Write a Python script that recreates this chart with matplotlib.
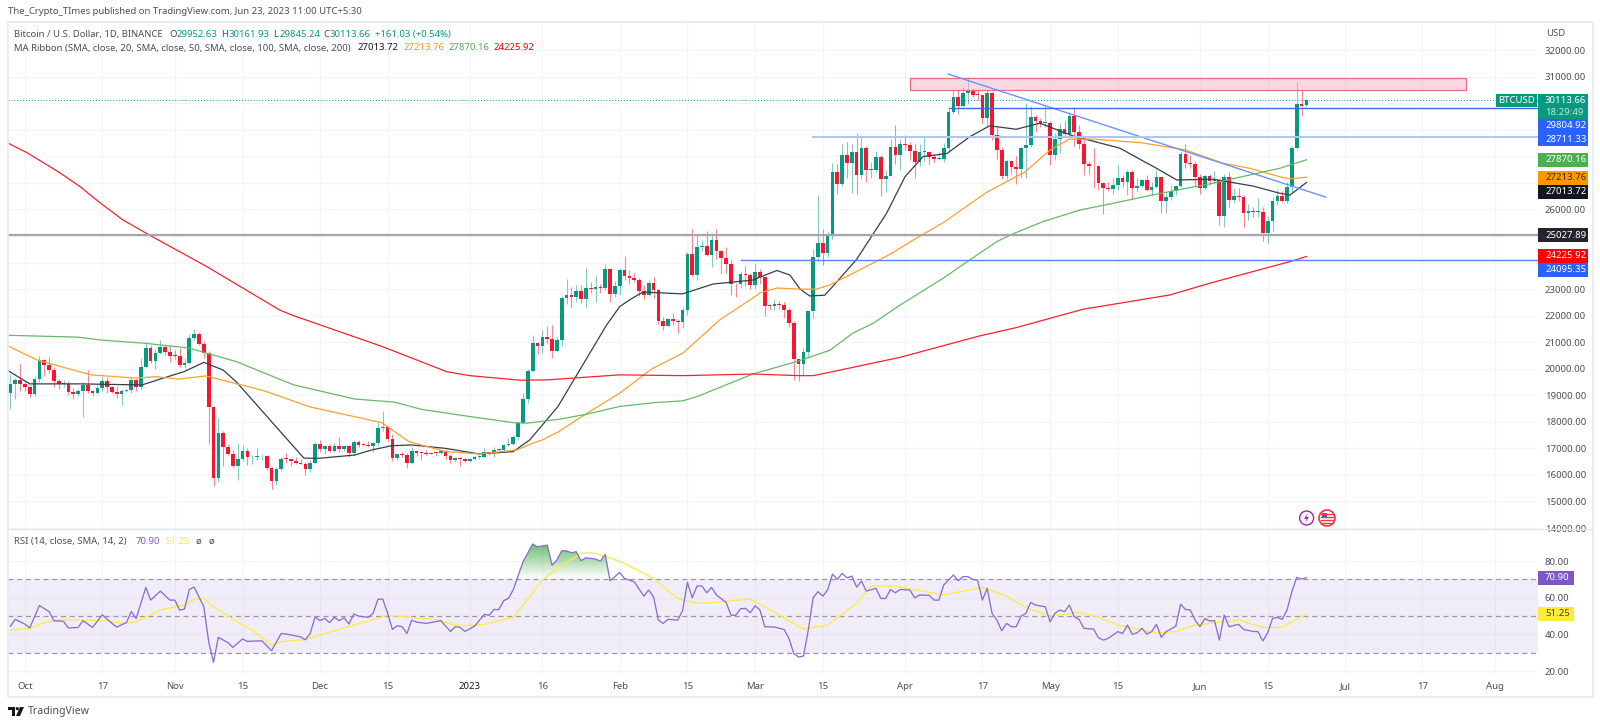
import matplotlib
matplotlib.use('Agg')
import matplotlib.pyplot as plt
from matplotlib.patches import Rectangle, Circle, Polygon
import numpy as np

plt.rcParams['font.family'] = ['Noto Sans', 'DejaVu Sans']

# daily candles, 2022-09-28 .. 2023-06-23 (x = days from 1 Oct 2022)
first_open = 19088
closes = [
    19412, 19591, 19422,
    19310, 19056, 19629, 20337, 20158, 19955, 19531, 19417, 19439, 19131, 19060, 19155, 19375, 19176, 19068, 19262,
    19549, 19327, 19123, 19041, 19164, 19204, 19572, 19330, 20080, 20771, 20295, 20595, 20818, 20635, 20495,
    20485, 20159, 20209, 21148, 21300, 20925, 20600, 18541, 15880, 17586, 17034, 16800, 16354, 16618, 16885,
    16663, 16680, 16697, 16711, 16280, 15781, 16226, 16603, 16598, 16522, 16458, 16428, 16212, 16442, 17163,
    16977, 17092, 16885, 17105, 16967, 17089, 16836, 17224, 17128, 17127, 17085, 17209, 17775, 17803, 17356,
    16630, 16777, 16738, 16438, 16895, 16824, 16821, 16778, 16836, 16832, 16917, 16707, 16547, 16633, 16607, 16542,
    16616, 16672, 16675, 16850, 16831, 16950, 16943, 17127, 17178, 17440, 17943, 18847, 19930, 20955, 20875,
    21185, 21133, 20675, 21072, 22667, 22784, 22707, 22917, 22633, 23056, 23009, 23075, 23028, 23743, 22827, 23125,
    23733, 23492, 23431, 23327, 22932, 22762, 23240, 22963, 21796, 21625, 21862, 21783, 21773, 22200, 24324,
    23517, 24569, 24631, 24271, 24838, 24450, 24188, 23947, 23198, 23175, 23561, 23522, 23147,
    23646, 23470, 22362, 22354, 22435, 22409, 22199, 21705, 20363, 20187, 20632, 22163, 24197, 24746, 24375,
    25055, 27423, 26965, 28038, 27767, 28175, 27307, 28333, 27493, 27494, 27994, 27139, 27268, 28348, 28033, 28478,
    28411, 28199, 27790, 28170, 28175, 27993, 27917, 27917, 28333, 29653, 30235, 29884, 30399, 30485, 30318,
    30315, 29445, 30397, 28822, 28245, 27262, 27816, 27590, 27510, 28300, 28417, 29473, 29340, 29248, 29268,
    28068, 28669, 29026, 28836, 29534, 28904, 28454, 27694, 27654, 27621, 27000, 26804, 26784, 26930, 27170,
    27033, 27405, 26822, 26890, 27112, 26747, 26850, 27225, 26330, 26473, 26705, 26868, 28085, 27745, 27700, 27219,
    26819, 27249, 27069, 27115, 25760, 27238, 26347, 26506, 26480, 25850, 25940, 25902, 25918, 25124, 25575,
    26327, 26510, 26336, 26840, 28307, 29990, 29890, 30113.66,
]
highs = [
    19790, 19645, 20180,
    19484, 19395, 19719, 20475, 20365, 20456, 20055, 19615, 19558, 19525, 19270, 19225, 19513, 19950, 19210, 19425,
    19680, 19700, 19360, 19345, 19250, 19250, 19690, 19600, 20420, 21020, 20880, 20750, 21085, 20930, 20840,
    20690, 20800, 20390, 21300, 21480, 21370, 21050, 20670, 18600, 18150, 17650, 17150, 16950, 17190, 17130,
    17000, 16750, 17000, 16800, 16750, 16290, 16310, 16670, 16810, 16600, 16680, 16600, 16480, 16550, 17250,
    17320, 17110, 17160, 17200, 17420, 17110, 17140, 17300, 17300, 17220, 17270, 17240, 18000, 18390, 17850,
    17530, 16800, 16870, 16815, 17060, 16900, 16870, 16950, 16870, 16860, 16930, 16970, 16780, 16660, 16680, 16630,
    16630, 16760, 16770, 17000, 16880, 17040, 16960, 17170, 17400, 17500, 18000, 19100, 20000, 21260, 21000,
    21460, 21600, 21650, 21190, 22750, 23370, 23080, 23170, 23160, 23800, 23260, 23500, 23180, 23960, 23790, 23320,
    23810, 24255, 23720, 23590, 23430, 23160, 23340, 23450, 23010, 21940, 21900, 22090, 21890, 22320, 24380,
    25250, 25020, 24850, 25190, 25120, 25250, 24480, 24600, 24130, 23220, 23690, 23880, 23600,
    24000, 23770, 23480, 22420, 22610, 22550, 22530, 22270, 21810, 20370, 20790, 22190, 24500, 26550, 25250,
    25200, 27750, 27730, 28470, 28530, 28470, 28880, 28800, 28380, 27790, 28200, 28040, 27500, 28650, 29180, 28660,
    28800, 28530, 28500, 28450, 28760, 28180, 28100, 28170, 28520, 29770, 30550, 30500, 30620, 31000, 30590,
    30550, 30320, 30490, 30410, 29100, 28370, 27880, 27820, 28000, 28400, 30020, 29890, 29570, 29460, 29950,
    29340, 28880, 29260, 29350, 29670, 29850, 29170, 28660, 27830, 28320, 27660, 27040, 27030, 27200, 27660,
    27300, 27470, 27480, 27170, 27150, 27280, 27050, 27500, 27220, 26630, 26930, 26930, 28200, 28450, 28050, 27830,
    27350, 27300, 27320, 27450, 27130, 27350, 27400, 26800, 26790, 26530, 26210, 26110, 26440, 26080, 25750,
    26480, 26770, 26700, 27040, 28400, 30800, 30500, 30161.93,
]
lows = [
    18471, 18843, 19155,
    19159, 18920, 18959, 19493, 19730, 19853, 19320, 19255, 19320, 19020, 18860, 18965, 18190, 19070, 18975, 19065,
    19160, 19100, 19070, 18900, 18650, 19115, 19070, 19160, 19250, 20050, 20200, 20000, 20550, 20510, 20250,
    20350, 20050, 20030, 20180, 21080, 20890, 20400, 17170, 15590, 15750, 16350, 16750, 16300, 15820, 16530,
    16360, 16400, 16550, 16560, 16170, 15480, 15620, 16160, 16460, 16350, 16400, 16400, 15995, 16110, 16430,
    16860, 16790, 16860, 16880, 16870, 16905, 16680, 16730, 17060, 17090, 17070, 16870, 17075, 17660, 17275,
    16530, 16580, 16660, 16260, 16400, 16710, 16560, 16750, 16790, 16700, 16790, 16590, 16460, 16490, 16330, 16470,
    16490, 16550, 16600, 16650, 16750, 16670, 16910, 16910, 17100, 17140, 17320, 17900, 18700, 19880, 20550,
    20610, 20920, 20400, 20650, 20850, 22420, 22290, 22510, 22460, 22320, 22850, 22500, 22870, 22980, 22500, 22710,
    22760, 23360, 23200, 23250, 22750, 22630, 22750, 22670, 21690, 21450, 21600, 21630, 21350, 21530, 22040,
    23510, 23340, 24430, 24230, 23840, 24150, 23570, 23600, 22770, 22700, 23060, 23100, 23020,
    23020, 23180, 21970, 22200, 22200, 22250, 21930, 21580, 19570, 19550, 19770, 20440, 21900, 24050, 23900,
    24200, 24890, 26600, 26900, 27200, 26630, 26600, 27150, 27030, 27200, 27400, 26500, 26650, 27250, 27700, 27500,
    28240, 27870, 27200, 27650, 27830, 27730, 27780, 27880, 27800, 28170, 29600, 29600, 29870, 29970, 30230,
    30120, 29260, 29100, 28600, 27900, 27130, 27130, 27350, 26950, 27200, 27200, 28370, 28900, 29100, 29100,
    27660, 27870, 28130, 28690, 28800, 28380, 28260, 27280, 27340, 26800, 26750, 25810, 26690, 26600, 26750,
    26860, 26550, 26400, 26670, 26830, 26680, 26520, 26820, 25870, 25870, 26350, 26550, 26850, 27550, 27550, 26850,
    26600, 26760, 26920, 26950, 25400, 25350, 26110, 26240, 26310, 25350, 25610, 25720, 25700, 24820, 24750,
    25170, 26180, 26280, 26250, 26650, 28260, 29530, 29845.24,
]
opens = [first_open] + closes[:-1]
opens[-1] = 29952.63

# moving averages at their bends
ma20_days = [-3.5, 1, 11.6, 24.2, 29, 32.9, 37, 41, 43.7, 57.7, 61, 68.2, 71.7, 75.8, 80, 87, 94, 101, 104.4, 110.2,
             116.2, 120.3, 123, 125, 127.8, 136, 142.3, 150.5, 155.5, 158.2, 160.3, 162.3, 165.4, 167, 172, 174.6,
             178.2, 182, 185.7, 190.7, 195.4, 199.5, 205, 209.9, 216.7, 226.4, 234, 238.2, 245.7, 254, 259.5, 261.6,
             265]
ma20_vals = [19930, 19430, 19430, 19390, 19670, 19890, 20240, 19950, 19510, 16630, 16630, 16750, 16940, 17100, 17130,
             17000, 16790, 16880, 17320, 18570, 20400, 21650, 22340, 22590, 22890, 22820, 23190, 23340, 23700, 23530,
             23000, 22740, 22770, 23090, 24120, 24850, 25860, 27230, 27990, 28110, 28740, 29150, 29020, 29250, 28770,
             28310, 27550, 27110, 27140, 26880, 26610, 26540, 27013.72]
ma50_days = [-3.5, 2.5, 13.6, 22.7, 27, 31.8, 37.4, 49.3, 59, 73.8, 79.4, 87, 94, 101.7, 104.4, 107, 110.2, 116.2, 123,
             129.6, 136, 143.7, 149.9, 152, 155.5, 160.3, 163.7, 166.5, 172, 179.5, 183.7, 189.8, 199, 206.8, 212, 216,
             220.8, 231, 240, 247.8, 253.3, 259.5, 261.6, 265]
ma50_vals = [20860, 20330, 19770, 19650, 19700, 19610, 19730, 19180, 18560, 17970, 17255, 16880, 16790, 16940, 17150,
             17320, 17610, 18320, 19080, 19990, 20580, 21840, 22590, 22850, 23040, 23000, 23000, 23160, 23660, 24370,
             24850, 25490, 26660, 27410, 28240, 28650, 28650, 28510, 28240, 27740, 27550, 27230, 27150, 27213.76]
ma100_days = [-3.5, 11, 15.7, 24.8, 33.9, 43.7, 55.6, 68.2, 76.5, 82, 92, 101, 103.8, 110.6, 116.2, 123, 129.9, 136,
              139, 150.5, 159.6, 166.5, 171.2, 175.4, 181, 189.9, 195.4, 201, 204.3, 210.5, 218.2, 225, 233.3, 245.7,
              259.5, 265]
ma100_vals = [21260, 21190, 21080, 20960, 20780, 20270, 19390, 18860, 18740, 18470, 18200, 17970, 17950, 18100, 18290,
              18580, 18720, 18790, 18950, 19800, 20270, 20700, 21340, 21710, 22400, 23410, 24100, 24790, 25080, 25540,
              25980, 26230, 26550, 26990, 27550, 27870.16]
ma200_days = [-3.5, 0.4, 7.2, 11.4, 15.5, 20.3, 25.8, 37.6, 52.7, 55.4, 74, 87.2, 92, 102.4, 108, 123, 136, 150.5,
              160.3, 163, 166.5, 181, 197.5, 205, 218.8, 236.8, 245, 262.3, 265]
ma200_vals = [28500, 28140, 27385, 26860, 26255, 25600, 25030, 23850, 22210, 22010, 20830, 19890, 19740, 19570, 19580,
              19770, 19740, 19800, 19740, 19740, 19870, 20430, 21240, 21550, 22240, 22780, 23220, 24070, 24225.92]

# RSI pane
rsi_days = [-3, -2, 0, 1, 3, 5, 6, 8, 9, 11, 12, 14, 16, 18, 19, 21, 22, 23, 25, 26, 28, 30, 31, 32, 33, 34, 35, 37,
            38, 39, 40, 42, 43, 45, 46, 49, 51, 53, 54, 57, 58, 59, 60, 61, 62, 63, 64, 65, 66, 67, 68, 69, 71, 72, 73,
            74, 75, 76, 77, 78, 79, 80, 81, 83, 86, 88, 89, 90, 91, 93, 95, 96, 97, 98, 99, 100, 101, 103, 105, 106,
            108, 109, 110, 111, 112, 113, 114, 115, 116, 118, 119, 120, 121, 123, 124, 126, 128, 129, 130, 131, 132,
            133, 135, 136, 137, 138, 139, 140, 141, 142, 143, 145, 146, 147, 148, 149, 150, 151, 152, 153, 155, 157,
            158, 159, 160, 161, 162, 163, 164, 165, 166, 167, 168, 169, 170, 171, 172, 173, 174, 176, 177, 178, 179,
            180, 181, 183, 184, 185, 187, 188, 189, 190, 192, 193, 194, 195, 196, 197, 198, 199, 200, 201, 202, 203,
            204, 205, 206, 207, 208, 209, 211, 212, 213, 214, 215, 216, 217, 218, 219, 221, 222, 223, 224, 226, 227,
            228, 229, 230, 231, 232, 233, 234, 235, 236, 238, 239, 240, 241, 242, 243, 244, 245, 246, 247, 248, 249,
            251, 252, 254, 255, 256, 257, 258, 259, 260, 261, 262, 263, 264, 265]
rsi_vals = [44.5, 48.2, 45.6, 43.6, 55.8, 52.4, 47.5, 47.1, 43.5, 43.8, 47.5, 43.8, 50.7, 46, 44, 46.5, 52.5, 48.7,
            65.6, 58.7, 63.6, 58.7, 58.7, 53.3, 53.8, 64.5, 65.8, 55.1, 36, 24.7, 38.4, 35.5, 32.9, 37.5, 36.2, 36.5,
            31.1, 40.5, 40.2, 38.7, 37.1, 40.5, 49.6, 47.5, 48.7, 46.4, 49.3, 47.5, 49.1, 45.6, 51.1, 50, 49.3, 51.5,
            59.1, 59.3, 51.5, 42.7, 44.7, 44.2, 40.5, 47.8, 46.7, 46, 47.5, 41.6, 44.2, 43.8, 41.6, 44.5, 50.9, 50.4,
            53.6, 53.5, 58.4, 59.6, 64.5, 79.6, 89.3, 87.8, 88.7, 77.8, 80.5, 85.6, 85.6, 84.5, 85.1, 80.2, 81.8, 81.1,
            80, 83.6, 69.3, 73.8, 70.5, 68.7, 60.9, 64.2, 60.5, 47.8, 46, 48.2, 47.8, 52.9, 68.4, 60, 66.4, 66.4, 62.7,
            65.6, 61.5, 57.5, 50.5, 50.4, 54, 54.2, 51.8, 55.6, 53.3, 44.2, 44, 42.7, 37.8, 29.6, 27.6, 28.2, 42.4, 60,
            63.3, 60.9, 64.2, 72.9, 70, 73.3, 70.9, 71.8, 65.8, 69.1, 63.6, 65.1, 59.6, 59.6, 64.5, 62.7, 64.5, 64.2,
            60, 61.5, 61.3, 58.7, 58.7, 66.9, 72.4, 69.3, 71.5, 71.5, 70, 69.6, 58.7, 65.1, 51.5, 47.8, 42, 46, 44.2,
            44.2, 50, 51.5, 57.5, 56, 55.1, 46.9, 51.5, 53.3, 52.4, 56, 49.6, 48.2, 43.3, 42.9, 38.2, 36.9, 37.8, 41.5,
            40.5, 45.1, 40, 40.9, 43.3, 40.2, 41.5, 45.5, 38.4, 41.5, 44.5, 56.5, 53.6, 53.3, 47.8, 44.2, 48.7, 47.3,
            47.5, 36.9, 50.5, 44.2, 45.5, 42.7, 41.6, 41.5, 36.4, 40.9, 48.7, 49.3, 48.2, 53.3, 63.3, 71.1, 70.2, 70.9]
rsi_ma_days = [-3, 1, 4, 8, 16, 21, 23, 28, 33, 35, 37, 39, 45, 47, 51, 53, 58, 66, 71, 75, 86, 88, 91, 95, 101, 103,
               107, 111, 115, 117, 119, 122, 124, 128, 130, 135, 139, 143, 150, 153, 161, 166, 172, 175, 180, 190, 198,
               203, 207, 212, 218, 222, 226, 234, 238, 242, 248, 251, 256, 260, 265]
rsi_ma_vals = [42.4, 43.3, 46.5, 48.2, 47.5, 46, 46.9, 53.3, 56, 59.1, 59.6, 55.1, 45.1, 42.4, 34.2, 36, 37.3, 43.6,
               47.3, 50.5, 47.8, 45.6, 44.7, 45.5, 49.3, 56, 69.6, 77.8, 84.2, 84.5, 83.6, 80.9, 78.7, 73.3, 70.5, 59.6,
               56.9, 57.5, 59.3, 55.1, 42.9, 45.1, 56.9, 66.4, 66.4, 61.5, 65.6, 60.9, 54.7, 50, 52, 49.6, 45.1, 40.9,
               41.5, 45.1, 46.9, 47.8, 43.8, 43.8, 51.25]

tick_days = [0, 16, 31, 45, 61, 75, 92, 107, 123, 137, 151, 165, 182, 198, 212, 226, 243, 257, 273, 289, 304]
tick_labels = ['Oct', '17', 'Nov', '15', 'Dec', '15', '2023', '16', 'Feb', '15', 'Mar', '15', 'Apr', '17', 'May',
               '15', 'Jun', '15', 'Jul', '17', 'Aug']
price_ticks = list(range(14000, 33000, 1000))
hidden_prices = [24000, 25000, 27000, 28000, 29000, 30000]

UP = '#089981'
DOWN = '#f7152f'
GRID = '#f3f5f9'
LABEL = '#4a4e5a'
W, H = 1600, 726
AXIS_FS = 6.9
TEXT_FS = 6.85

fig = plt.figure(figsize=(16, 7.26), dpi=100, facecolor='white')
ax = fig.add_axes([8 / W, 1 - 529 / H, 1530 / W, 507 / H])
rsi = fig.add_axes([8 / W, 1 - 674 / H, 1530 / W, 145 / H])
top = fig.add_axes([0, 0, 1, 1], zorder=10)
top.set_xlim(0, W)
top.set_ylim(H, 0)
top.axis('off')
top.patch.set_alpha(0)

for a in (ax, rsi):
    a.set_xlim(-3.5, 312.9)
    a.set_xticks(tick_days)
    a.grid(True, color=GRID, lw=1)
    a.set_axisbelow(True)
    for s in a.spines.values():
        s.set_visible(False)
    a.tick_params(length=0)

# price pane
ax.set_ylim(13964, 33060)
ax.set_yticks(price_ticks)
ax.set_yticklabels(['' if p in hidden_prices else '%d.00' % p for p in price_ticks])
ax.yaxis.tick_right()
ax.tick_params(axis='y', labelsize=AXIS_FS, labelcolor=LABEL, pad=5)
ax.set_xticklabels([])

bar_x = np.arange(len(closes)) - 3
o = np.array(opens)
c = np.array(closes)
colors = np.where(c >= o, UP, DOWN)
ax.vlines(bar_x, lows, highs, colors=colors, lw=0.8, alpha=0.5, zorder=3)
body = np.maximum(np.abs(c - o), 30)
ax.bar(bar_x, body, bottom=np.minimum(o, c), width=0.76, color=colors, linewidth=0, zorder=4)

ax.plot(ma20_days, ma20_vals, color='#3a3d47', lw=0.9, zorder=5)
ax.plot(ma50_days, ma50_vals, color='#ff9f2e', lw=0.9, zorder=5)
ax.plot(ma100_days, ma100_vals, color='#66b96a', lw=0.9, zorder=5)
ax.plot(ma200_days, ma200_vals, color='#f5222d', lw=0.9, zorder=5)

# drawings on the price pane
ax.axhline(30113.66, color=UP, lw=0.7, ls=(0, (1, 2)), zorder=2)
ax.add_patch(Rectangle((183, 30500), 115, 440, facecolor='#f7a8be', alpha=0.45, edgecolor='none', zorder=6))
ax.add_patch(Rectangle((183, 30500), 115, 440, facecolor='none', edgecolor='#ee6d7e', lw=0.9, zorder=6))
ax.plot([190.9, 269], [31100, 26465], color='#6d92ff', lw=1.0, zorder=6)
ax.plot([191, 312.9], [29804.92, 29804.92], color='#3f68e0', lw=1.0, zorder=6)
ax.plot([163, 312.9], [28711.33, 28711.33], color='#aec4ff', lw=1.4, zorder=6)
ax.axhline(25027.89, color='#a6a6a6', lw=1.6, zorder=6)
ax.plot([148, 312.9], [24095.35, 24095.35], color='#5d80f0', lw=1.0, zorder=6)

# rsi pane
rsi.set_ylim(18.4, 97.5)
rsi.set_yticks([20, 40, 60, 80])
rsi.set_yticklabels(['20.00', '40.00', '60.00', '80.00'])
rsi.yaxis.tick_right()
rsi.tick_params(axis='y', labelsize=AXIS_FS, labelcolor=LABEL, pad=5)
rsi.set_xticklabels(tick_labels)
rsi.tick_params(axis='x', labelsize=AXIS_FS, labelcolor=LABEL, pad=6)
rsi.get_xticklabels()[6].set_color('#131722')

rsi.axhspan(30, 70, color='#7e57c2', alpha=0.1, lw=0, zorder=1)
for level in (30, 50, 70):
    rsi.axhline(level, color='#9a97a5', lw=0.9, ls=(0, (4, 3)), zorder=2)

# green gradient where the RSI sits above 70
grad = np.zeros((64, 2, 4))
grad[..., 0] = 0.30
grad[..., 1] = 0.69
grad[..., 2] = 0.31
grad[..., 3] = np.linspace(0.85, 0, 64)[:, None]
img = rsi.imshow(grad, extent=(101, 122, 70, 90), origin='upper', aspect='auto', zorder=2)
clip = Polygon(np.array([[d, v] for d, v in zip(rsi_days, rsi_vals) if 101 <= d <= 121]
                        + [[121, 70], [101.5, 70]]), transform=rsi.transData)
img.set_clip_path(clip)
rsi.set_xlim(-3.5, 312.9)
rsi.set_ylim(18.4, 97.5)

rsi.plot(rsi_ma_days, rsi_ma_vals, color='#ffe94d', lw=1.0, zorder=3)
rsi.plot(rsi_days, rsi_vals, color='#8a6fd0', lw=0.95, zorder=4)

# frame and pane separator
top.add_patch(Rectangle((8, 22), 1585, 675, facecolor='none', edgecolor='#e8eaf0', lw=1.2))
top.plot([8, 1593], [529, 529], color='#e4e6ec', lw=1)

# header and legends
top.text(8, 12, 'The_Crypto_TImes published on TradingView.com, Jun 23, 2023 11:00 UTC+5:30',
         fontsize=TEXT_FS, color=LABEL, va='center')


def legend(x, y, s, color=LABEL):
    top.text(x, y, s, fontsize=TEXT_FS, color=color, va='center')


legend(14.5, 34.5, 'Bitcoin / U.S. Dollar, 1D, BINANCE')
legend(169, 34.5, 'O')
legend(176.5, 34.5, '29952.63', UP)
legend(221, 34.5, 'H')
legend(229, 34.5, '30161.93', UP)
legend(273, 34.5, 'L')
legend(279, 34.5, '29845.24', UP)
legend(323.6, 34.5, 'C')
legend(330, 34.5, '30113.66', UP)
legend(375, 34.5, '+161.03 (+0.54%)', UP)
legend(14.5, 48, 'MA Ribbon (SMA, close, 20, SMA, close, 50, SMA, close, 100, SMA, close, 200)')
legend(358, 48, '27013.72', '#131722')
legend(403.5, 48, '27213.76', '#ff9800')
legend(448.5, 48, '27870.16', '#4caf50')
legend(494, 48, '24225.92', '#ff0000')
legend(14.5, 541.7, 'RSI (14, close, SMA, 14, 2)')
legend(136, 541.7, '70.90', '#7e57c2')
legend(165, 541.7, '51.25', '#ffe94d')
legend(196, 541.7, 'ø')
legend(208.5, 541.7, 'ø')
top.text(1546, 33, 'USD', fontsize=TEXT_FS, color=LABEL, va='center')


# price axis badges
def badge(y, color, s, text_color='white', x0=1538, x1=1588, half=6.7):
    top.add_patch(Rectangle((x0, y - half), x1 - x0, 2 * half, facecolor=color, edgecolor='none'))
    top.text(x0 + 7, y, s, fontsize=AXIS_FS, color=text_color, va='center', fontweight='medium')


badge(100.7, UP, '30113.66')
badge(112.5, UP, '18:29:49', text_color='#bfe6de', half=6.5)
badge(126, '#2962ff', '29804.92')
badge(139.7, '#2962ff', '28711.33')
badge(160, '#4caf50', '27870.16')
badge(178, '#ff9800', '27213.76', text_color='#3b2a0a')
badge(192, '#131722', '27013.72')
badge(235, '#22252e', '25027.89')
badge(256, '#ff0000', '24225.92')
badge(270, '#2962ff', '24095.35')
badge(578, '#7e57c2', '70.90', x1=1574)
badge(614, '#ffeb3b', '51.25', text_color='#4a4420', x1=1574)
top.add_patch(Rectangle((1496, 94), 41, 13, facecolor=UP, edgecolor='none'))
top.text(1516.5, 100.7, 'BTCUSD', fontsize=TEXT_FS, color='white', va='center', ha='center')

# event icons
top.add_patch(Circle((1306.6, 518), 7, facecolor='white', edgecolor='#9c27b0', lw=1))
top.add_patch(Polygon([(1308, 513), (1304, 519), (1306.5, 519), (1305, 523), (1309, 517), (1306.5, 517)],
                      facecolor='#9c27b0', edgecolor='none'))
top.add_patch(Circle((1327, 518), 8, facecolor='white', edgecolor='#f23645', lw=1.2))
for stripe in (513.5, 516.5, 519.5, 522.5):
    top.plot([1321, 1333], [stripe, stripe], color='#f23645', lw=1)
top.add_patch(Rectangle((1322, 513), 5, 4.5, facecolor='#2962ff', edgecolor='none'))

# TradingView logo
top.add_patch(Polygon([(8, 707), (15, 707), (15, 716), (11.5, 716), (11.5, 710), (8, 710)], facecolor='#131722'))
top.add_patch(Circle((17.3, 708.6), 1.6, facecolor='#131722', edgecolor='none'))
top.add_patch(Polygon([(20, 707), (24, 707), (20, 716), (16, 716)], facecolor='#131722'))
top.text(27.5, 711.5, 'TradingView', fontsize=7.6, color=LABEL, va='center')

fig.savefig('out.png', dpi=100, facecolor='white')
